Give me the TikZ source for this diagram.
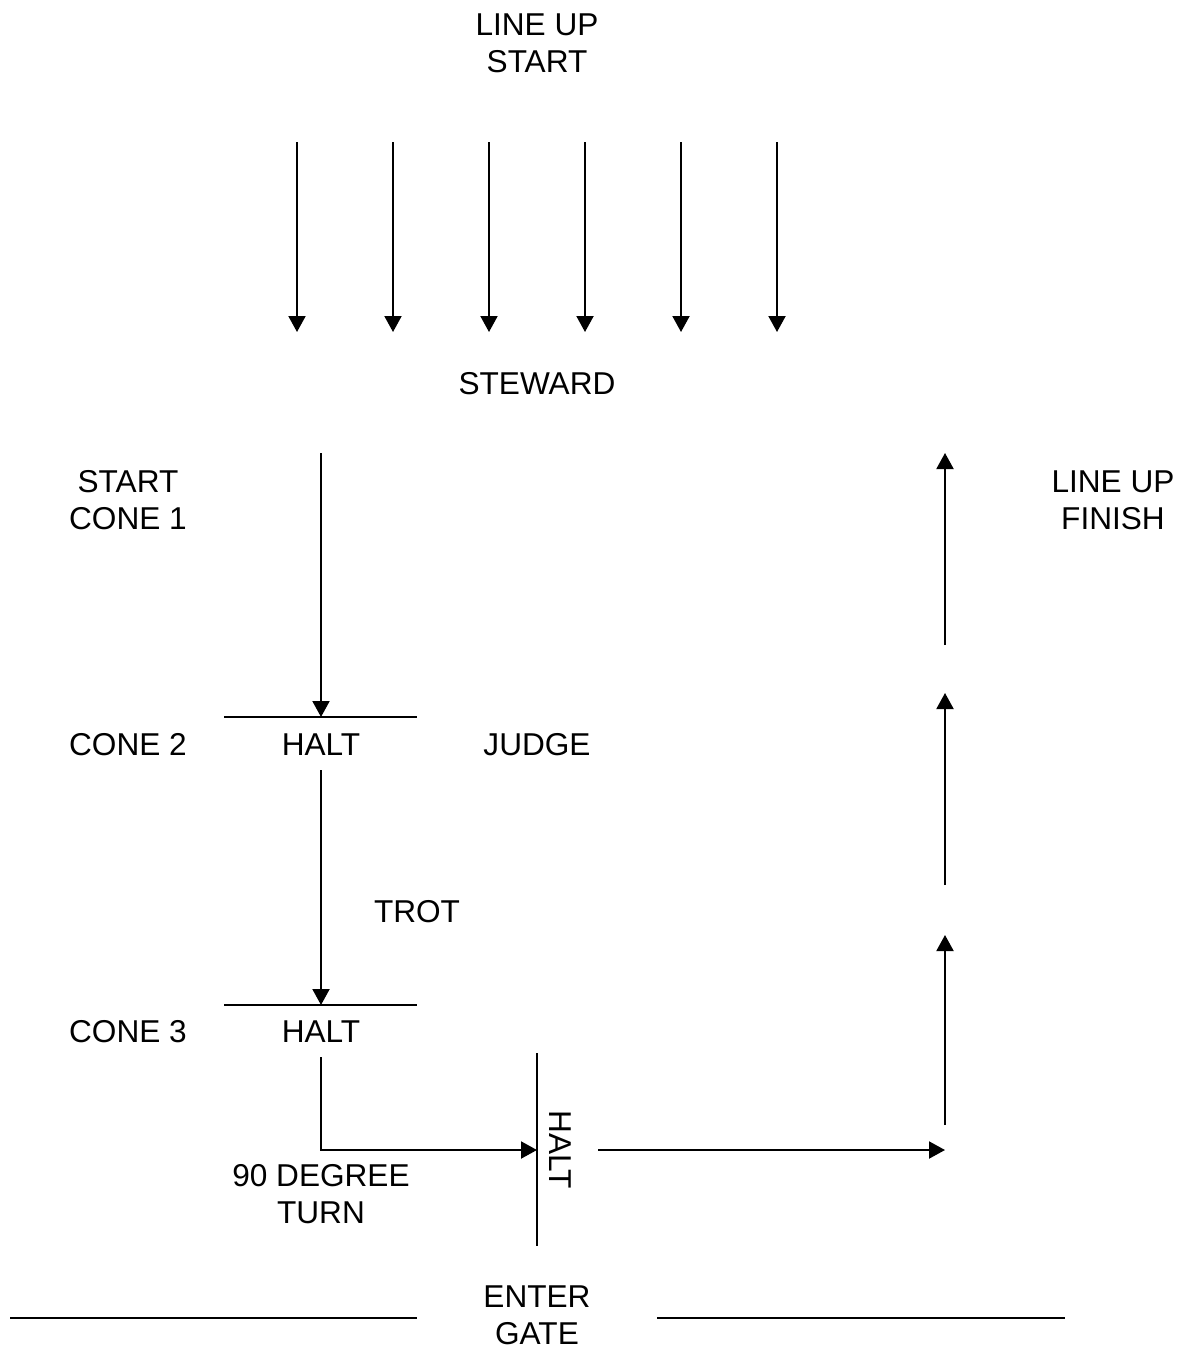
\documentclass[tikz,border=0pt]{standalone}
\usepackage{fontspec}
\setmainfont{Liberation Sans}
\usetikzlibrary{arrows.meta,positioning}

\begin{document}
\begin{tikzpicture}[
    x=0.5pt, y=-0.5pt,
    txt/.style={inner sep=0pt, align=center, font=\fontsize{15.8}{18.5}\selectfont},
    arrow/.style={-{Triangle[length=8pt,width=8.5pt]}, line width=1pt},
    rule/.style={line width=1pt}
]
\useasboundingbox (0,0) rectangle (1182,1349);

% Line up at the top
\node[txt] (lustart) at (537,43) {LINE UP\\START};
\foreach \x [count=\i] in {297,393,489,585,681,777} {
    \coordinate (lu\i) at (\x,142);
    \coordinate (st\i) at (\x,332);
    \draw[arrow] (lu\i) -- (st\i);
}
\node[txt] (steward) at (537,384) {STEWARD};

% Cones on the left
\node[txt] (cone1) at (128,500) {START\\CONE 1};
\node[txt] (cone2) at (128,745) {CONE 2};
\node[txt] (cone3) at (128,1032) {CONE 3};

% Halt at cone 2
\coordinate (h1w) at (224,717);
\coordinate (h1e) at (417,717);
\coordinate (h1) at (321,717);
\draw[rule] (h1w) -- (h1e);
\node[txt] (halt1) at (321,745) {HALT};
\node[txt] (judge) at (537,745) {JUDGE};

% Halt at cone 3
\coordinate (h2w) at (224,1005);
\coordinate (h2e) at (417,1005);
\coordinate (h2) at (321,1005);
\draw[rule] (h2w) -- (h2e);
\node[txt] (halt2) at (321,1032) {HALT};
\node[txt] (trot) at (417,912) {TROT};

% Turn and halt
\coordinate (h3n) at (537,1053);
\coordinate (h3s) at (537,1246);
\coordinate (h3) at (537,1150);
\draw[rule] (h3n) -- (h3s);
\node[txt, rotate=-90] (halt3) at (560,1150) {HALT};
\node[txt] (turn) at (321,1194) {90 DEGREE\\TURN};

% Back to the line up
\coordinate (c1) at (321,453);
\coordinate (c2) at (321,770);
\coordinate (c3) at (321,1057);
\coordinate (out) at (598,1150);
\coordinate (corner) at (945,1150);
\coordinate (up1) at (945,1125);
\coordinate (up1e) at (945,935);
\coordinate (up2) at (945,885);
\coordinate (up2e) at (945,693);
\coordinate (up3) at (945,645);
\coordinate (up3e) at (945,453);
\node[txt] (lufinish) at (1113,500) {LINE UP\\FINISH};

% Gate
\node[txt] (gate) at (537,1315) {ENTER\\GATE};
\coordinate (g1) at (10,1318);
\coordinate (g2) at (417,1318);
\coordinate (g3) at (657,1318);
\coordinate (g4) at (1065,1318);
\draw[rule] (g1) -- (g2);
\draw[rule] (g3) -- (g4);

% Connectors
\draw[arrow] (c1) -- (h1);
\draw[arrow] (c2) -- (h2);
\draw[arrow] (c3) |- (h3);
\draw[arrow] (out) -- (corner);
\draw[arrow] (up1) -- (up1e);
\draw[arrow] (up2) -- (up2e);
\draw[arrow] (up3) -- (up3e);

\end{tikzpicture}
\end{document}
